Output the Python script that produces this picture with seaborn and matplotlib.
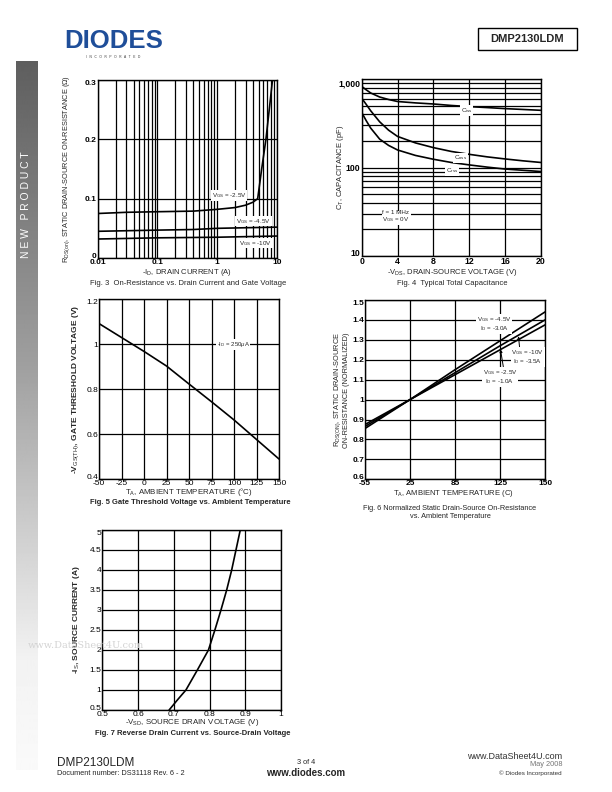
import numpy as np
import matplotlib
matplotlib.use('Agg')
import matplotlib.pyplot as plt
import seaborn as sns
from matplotlib.ticker import FixedLocator, FixedFormatter, LogLocator, NullFormatter
from matplotlib.patches import Rectangle

sns.set_style('white')
plt.rcParams['font.family'] = ['Liberation Sans', 'DejaVu Sans']
plt.rcParams['mathtext.fontset'] = 'custom'
plt.rcParams['mathtext.rm'] = 'Liberation Sans'
plt.rcParams['mathtext.it'] = 'Liberation Sans:italic'
plt.rcParams['mathtext.bf'] = 'Liberation Sans:bold'
plt.rcParams['axes.unicode_minus'] = False

# ---- Fig. 3 data: on-resistance vs drain current
id_25 = [0.01, 0.03, 0.1, 0.4, 1, 2, 3, 4, 4.8, 5.6, 6.6, 7.5, 8.5]
r_25 = [0.075, 0.077, 0.078, 0.079, 0.082, 0.085, 0.089, 0.094, 0.1, 0.15, 0.2, 0.25, 0.3]
id_45 = [0.01, 0.1, 0.4, 1, 3, 10]
r_45 = [0.045, 0.047, 0.048, 0.050, 0.051, 0.052]
id_10 = [0.01, 0.1, 1, 3, 10]
r_10 = [0.032, 0.034, 0.035, 0.036, 0.037]
f3_xticks = [0.01, 0.1, 1, 10]
f3_xlabels = ['0.01', '0.1', '1', '10']
f3_yticks = [0, 0.1, 0.2, 0.3]
f3_ylabels = ['0', '0.1', '0.2', '0.3']

# ---- Fig. 4 data: capacitance vs VDS
vds = [0, 0.5, 1, 2, 3, 4, 6, 8, 10, 12, 14, 16, 18, 20]
c_iss = [830, 760, 700, 630, 590, 560, 540, 525, 505, 490, 478, 465, 455, 445]
c_oss = [610, 520, 440, 330, 265, 225, 190, 168, 152, 141, 132, 125, 119, 114]
c_rss = [420, 340, 280, 210, 178, 158, 137, 124, 114, 107, 101, 96, 93, 90]
f4_xticks = [0, 4, 8, 12, 16, 20]
f4_yticks = [10, 100, 1000]
f4_ylabels = ['10', '100', '1,000']

# ---- Fig. 5 data: gate threshold vs temperature
t5 = [-50, -25, 0, 25, 50, 75, 100, 125, 150]
vth = [1.092, 1.03, 0.968, 0.903, 0.823, 0.744, 0.663, 0.576, 0.489]
f5_xticks = [-50, -25, 0, 25, 50, 75, 100, 125, 150]
f5_yticks = [0.4, 0.6, 0.8, 1.0, 1.2]
f5_ylabels = ['0.4', '0.6', '0.8', '1', '1.2']

# ---- Fig. 6 data: normalized RDS(on) vs temperature (equally spaced ticks)
t6_labels = ['-55', '25', '85', '125', '150']
rn_45 = [0.855, 1.0, 1.15, 1.295, 1.44]
rn_10 = [0.865, 1.0, 1.135, 1.27, 1.40]
rn_25 = [0.875, 1.0, 1.125, 1.25, 1.375]
f6_yticks = [0.6, 0.7, 0.8, 0.9, 1.0, 1.1, 1.2, 1.3, 1.4, 1.5]
f6_ylabels = ['0.6', '0.7', '0.8', '0.9', '1', '1.1', '1.2', '1.3', '1.4', '1.5']

# ---- Fig. 7 data: reverse drain current vs VSD
vsd = [0.687, 0.71, 0.734, 0.766, 0.797, 0.815, 0.832, 0.848, 0.862, 0.874, 0.886]
i_s = [0.5, 0.75, 1.0, 1.5, 2.0, 2.5, 3.0, 3.5, 4.0, 4.5, 5.0]
f7_xticks = [0.5, 0.6, 0.7, 0.8, 0.9, 1.0]
f7_xlabels = ['0.5', '0.6', '0.7', '0.8', '0.9', '1']
f7_yticks = [0.5, 1, 1.5, 2, 2.5, 3, 3.5, 4, 4.5, 5]
f7_ylabels = ['0.5', '1', '1.5', '2', '2.5', '3', '3.5', '4', '4.5', '5']

W, H = 612, 792
fig = plt.figure(figsize=(W / 100, H / 100), dpi=100)


def rect(l, t, r, b):
    return [l / W, 1 - b / H, (r - l) / W, (b - t) / H]


def ftext(x, y, s, **kw):
    kw.setdefault('ha', 'center')
    kw.setdefault('va', 'center')
    return fig.text(x / W, 1 - y / H, s, **kw)


def style_ax(ax, bold=False, size=6):
    for sp in ax.spines.values():
        sp.set_color('k')
        sp.set_linewidth(1.0)
    ax.tick_params(which='both', length=0, pad=0.8, labelsize=size, colors='k')
    if bold:
        for lab in ax.get_xticklabels() + ax.get_yticklabels():
            lab.set_fontweight('bold')
    # end labels of the y axis sit just inside the frame, as in the datasheet
    ylabs = ax.get_yticklabels()
    ylabs[0].set_va('baseline')
    ylabs[-1].set_va('top')


GRID = dict(color='k', linewidth=0.9)
LINE = dict(color='k', linewidth=1.2)
BOX = dict(fc='white', ec='none', pad=0.6)

# ---------------- Fig. 3
ax3 = fig.add_axes(rect(97.7, 80, 276.7, 258))
sns.lineplot(x=id_25, y=r_25, ax=ax3, **LINE)
sns.lineplot(x=id_45, y=r_45, ax=ax3, **LINE)
sns.lineplot(x=id_10, y=r_10, ax=ax3, **LINE)
ax3.set_xscale('log')
ax3.set_xlim(0.01, 10)
ax3.set_ylim(0, 0.3)
ax3.xaxis.set_major_locator(FixedLocator(f3_xticks))
ax3.xaxis.set_major_formatter(FixedFormatter(f3_xlabels))
ax3.xaxis.set_minor_locator(LogLocator(subs=range(2, 10)))
ax3.xaxis.set_minor_formatter(NullFormatter())
ax3.yaxis.set_major_locator(FixedLocator(f3_yticks))
ax3.yaxis.set_major_formatter(FixedFormatter(f3_ylabels))
ax3.grid(which='both', axis='x', **GRID)
ax3.grid(which='major', axis='y', **GRID)
style_ax(ax3, bold=True, size=6)
ax3.text(1.6, 0.105, r'V$_{\rm GS}$ = -2.5V', fontsize=4.5, ha='center', va='center', bbox=BOX)
ax3.text(4.1, 0.062, r'V$_{\rm GS}$ = -4.5V', fontsize=4.5, ha='center', va='center', bbox=BOX)
ax3.text(4.4, 0.025, r'V$_{\rm GS}$ = -10V', fontsize=4.5, ha='center', va='center', bbox=BOX)
ftext(67, 169, r'R$_{\rm DS(on)}$, STATIC DRAIN-SOURCE ON-RESISTANCE ($\Omega$)',
      rotation=90, fontsize=5.3)
ftext(187, 273, r'-I$_{\rm D}$, DRAIN CURRENT (A)', fontsize=5.5)
ftext(188, 283.5, 'Fig. 3  On-Resistance vs. Drain Current and Gate Voltage', fontsize=5.5)

# ---------------- Fig. 4
ax4 = fig.add_axes(rect(361.7, 79.3, 541, 255.7))
sns.lineplot(x=vds, y=c_iss, ax=ax4, **LINE)
sns.lineplot(x=vds, y=c_oss, ax=ax4, **LINE)
sns.lineplot(x=vds, y=c_rss, ax=ax4, **LINE)
ax4.set_yscale('log')
ax4.set_xlim(0, 20)
ax4.set_ylim(10, 1000)
ax4.xaxis.set_major_locator(FixedLocator(f4_xticks))
ax4.yaxis.set_major_locator(FixedLocator(f4_yticks))
ax4.yaxis.set_major_formatter(FixedFormatter(f4_ylabels))
ax4.yaxis.set_minor_locator(LogLocator(subs=range(2, 10)))
ax4.yaxis.set_minor_formatter(NullFormatter())
ax4.grid(which='both', axis='y', **GRID)
ax4.grid(which='major', axis='x', **GRID)
style_ax(ax4, bold=True, size=6.3)
ax4.text(11.7, 440, r'C$_{\rm iss}$', fontsize=4.5, ha='center', va='center', bbox=BOX)
ax4.text(11.0, 128, r'C$_{\rm oss}$', fontsize=4.5, ha='center', va='center', bbox=BOX)
ax4.text(10.1, 92, r'C$_{\rm rss}$', fontsize=4.5, ha='center', va='center', bbox=BOX)
ax4.text(2.3, 27.5, 'f = 1 MHz\n' + r'V$_{\rm GS}$ = 0V', fontsize=4.5, ha='left', va='center',
         linespacing=1.0, bbox=BOX)
ftext(340, 167, r'C$_{\rm T}$, CAPACITANCE (pF)', rotation=90, fontsize=5.5)
ftext(452, 272.5, r'-V$_{\rm DS}$, DRAIN-SOURCE VOLTAGE (V)', fontsize=5.5)
ftext(452, 283.5, 'Fig. 4  Typical Total Capacitance', fontsize=5.5)

# ---------------- Fig. 5
ax5 = fig.add_axes(rect(99, 299.3, 279, 479))
sns.lineplot(x=t5, y=vth, ax=ax5, **LINE)
ax5.set_xlim(-50, 150)
ax5.set_ylim(0.4, 1.2)
ax5.xaxis.set_major_locator(FixedLocator(f5_xticks))
ax5.yaxis.set_major_locator(FixedLocator(f5_yticks))
ax5.yaxis.set_major_formatter(FixedFormatter(f5_ylabels))
ax5.grid(which='major', **GRID)
style_ax(ax5)
ax5.text(99, 1.0, r'-I$_{\rm D}$ = 250$\mu$A', fontsize=4.3, ha='center', va='center', bbox=BOX)
ftext(76, 389, r'-V$_{\rm GS(TH)}$, GATE THRESHOLD VOLTAGE (V)', rotation=90, fontsize=6,
      fontweight='bold')
ftext(189, 492.5, r'T$_{\rm A}$, AMBIENT TEMPERATURE (°C)', fontsize=5.7)
ftext(190, 502.5, 'Fig. 5 Gate Threshold Voltage vs. Ambient Temperature', fontsize=5.5,
      fontweight='bold')

# ---------------- Fig. 6
ax6 = fig.add_axes(rect(365, 300, 545, 479.3))
pos6 = np.arange(len(t6_labels))
sns.lineplot(x=pos6, y=rn_45, ax=ax6, **LINE)
sns.lineplot(x=pos6, y=rn_10, ax=ax6, **LINE)
sns.lineplot(x=pos6, y=rn_25, ax=ax6, **LINE)
ax6.set_xlim(pos6[0], pos6[-1])
ax6.set_ylim(0.6, 1.5)
ax6.xaxis.set_major_locator(FixedLocator(pos6))
ax6.xaxis.set_major_formatter(FixedFormatter(t6_labels))
ax6.yaxis.set_major_locator(FixedLocator(f6_yticks))
ax6.yaxis.set_major_formatter(FixedFormatter(f6_ylabels))
ax6.grid(which='major', **GRID)
style_ax(ax6, bold=True, size=6)
ax6.text(2.87, 1.38, r'V$_{\rm GS}$ = -4.5V' + '\n' + r'I$_{\rm D}$ = -3.0A', fontsize=4.5,
         ha='center', va='center', linespacing=1.1, bbox=BOX)
ax6.annotate(r'V$_{\rm GS}$ = -10V' + '\n' + r'I$_{\rm D}$ = -3.5A', xy=(3.41, 1.318),
             xytext=(3.62, 1.213), fontsize=4.5, ha='center', va='center', linespacing=1.1,
             bbox=BOX, arrowprops=dict(arrowstyle='-|>', lw=0.7, color='k', mutation_scale=4,
                                       shrinkA=0, shrinkB=0, relpos=(0.25, 1.0)))
ax6.annotate(r'V$_{\rm GS}$ = -2.5V' + '\n' + r'I$_{\rm D}$ = -1.0A', xy=(3.01, 1.252),
             xytext=(3.0, 1.114), fontsize=4.5, ha='center', va='center', linespacing=1.1,
             bbox=BOX, arrowprops=dict(arrowstyle='-|>', lw=0.7, color='k', mutation_scale=4,
                                       shrinkA=0, shrinkB=0, relpos=(0.6, 1.0)))
ftext(337.5, 390, r'R$_{\rm DS(ON)}$, STATIC DRAIN-SOURCE', rotation=90, fontsize=5.3)
ftext(346.5, 390, 'ON-RESISTANCE (NORMALIZED)', rotation=90, fontsize=5.3)
ftext(453, 493, r'T$_{\rm A}$, AMBIENT TEMPERATURE (C)', fontsize=5.5)
ftext(450, 508, 'Fig. 6 Normalized Static Drain-Source On-Resistance', fontsize=5.3)
ftext(450, 517, 'vs. Ambient Temperature', fontsize=5.3)

# ---------------- Fig. 7
ax7 = fig.add_axes(rect(102.3, 530, 281, 710))
sns.lineplot(x=vsd, y=i_s, ax=ax7, **LINE)
ax7.set_xlim(0.5, 1.0)
ax7.set_ylim(0.5, 5)
ax7.xaxis.set_major_locator(FixedLocator(f7_xticks))
ax7.xaxis.set_major_formatter(FixedFormatter(f7_xlabels))
ax7.yaxis.set_major_locator(FixedLocator(f7_yticks))
ax7.yaxis.set_major_formatter(FixedFormatter(f7_ylabels))
ax7.grid(which='major', **GRID)
style_ax(ax7)
ftext(77, 620, r'-I$_{\rm S}$, SOURCE CURRENT (A)', rotation=90, fontsize=6, fontweight='bold')
ftext(192, 723, r'-V$_{\rm SD}$, SOURCE DRAIN VOLTAGE (V)', fontsize=5.7)
ftext(193, 733.5, 'Fig. 7 Reverse Drain Current vs. Source-Drain Voltage', fontsize=5.5,
      fontweight='bold')

# ---------------- page decorations
bar = fig.add_axes(rect(16, 61, 37, 770))
grad = np.concatenate([np.linspace(0.37, 0.62, 300), np.linspace(0.62, 0.95, 300),
                       np.linspace(0.95, 0.98, 110)])
bar.imshow(grad[:, None], cmap='gray', vmin=0, vmax=1, aspect='auto')
bar.axis('off')
ftext(26.5, 205, 'N E W   P R O D U C T', rotation=90, fontsize=7.5, color='white')

ftext(64, 41, 'DIODES', fontsize=18.5, fontweight='bold', color='#1f4e99', ha='left')
ftext(113, 56.5, 'I   N   C   O   R   P   O   R   A   T   E   D', fontsize=2.3, color='#333333')

fig.patches.append(Rectangle((478 / W, 1 - 50 / H), 99 / W, 22 / H, transform=fig.transFigure,
                             fill=False, ec='k', lw=1.0))
ftext(527.5, 39.5, 'DMP2130LDM', fontsize=8, fontweight='bold')

ftext(28, 645, 'www.DataSheet4U.com', fontsize=7, ha='left', color='#d4d4d4',
      family='DejaVu Serif', zorder=10)

ftext(57, 763, 'DMP2130LDM', fontsize=8.5, ha='left')
ftext(57, 773.5, 'Document number: DS31118 Rev. 6 - 2', fontsize=5.3, ha='left')
ftext(306, 763, '3 of 4', fontsize=5.3)
ftext(306, 772.5, 'www.diodes.com', fontsize=7, fontweight='bold')
ftext(562, 756.5, 'www.DataSheet4U.com', fontsize=6.5, ha='right', color='#333333')
ftext(562, 765, 'May 2008', fontsize=5.3, ha='right', color='#777777')
ftext(562, 773.5, '© Diodes Incorporated', fontsize=4.5, ha='right', color='#333333')

fig.savefig('out.png', dpi=100)
